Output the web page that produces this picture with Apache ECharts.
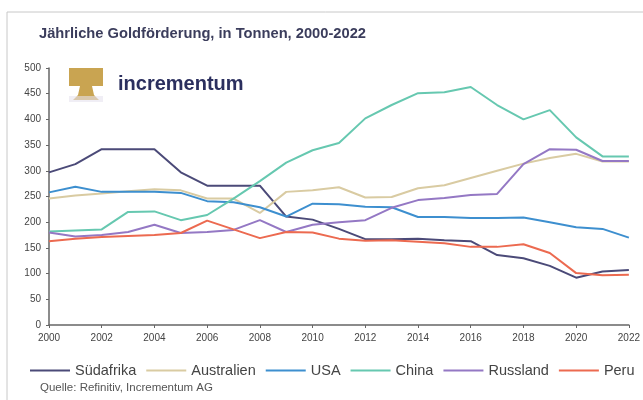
<!DOCTYPE html>
<html><head><meta charset="utf-8">
<script src="https://cdn.jsdelivr.net/npm/echarts@6/dist/echarts.min.js"></script>
<style>html,body{margin:0;padding:0;background:#fff}#c{width:643px;height:400px}</style>
</head><body><div id="c"></div>
<script>
const years = ['2000','2001','2002','2003','2004','2005','2006','2007','2008','2009','2010','2011','2012','2013','2014','2015','2016','2017','2018','2019','2020','2021','2022'];
const sudafrika = [297, 313, 342, 342, 342, 297, 271, 271, 271, 211, 205, 187, 167, 167, 168, 165, 163, 136, 130, 115, 92, 104, 107];
const australien = [246, 252, 256, 260, 264, 262, 246, 246, 218, 259, 262, 268, 248, 249, 266, 272, 286, 300, 314, 325, 333, 318, 318];
const usa = [258, 269, 259, 259, 259, 257, 241, 239, 229, 211, 236, 235, 230, 229, 210, 210, 208, 208, 209, 200, 190, 187, 170];
const china = [182, 184, 186, 220, 221, 204, 214, 246, 280, 316, 340, 354, 402, 428, 451, 453, 463, 428, 400, 418, 365, 328, 328];
const russland = [180, 172, 175, 181, 195, 179, 181, 185, 204, 181, 195, 200, 204, 228, 243, 247, 253, 255, 313, 342, 341, 319, 319];
const peru = [163, 168, 171, 173, 175, 179, 203, 186, 169, 181, 180, 168, 164, 165, 162, 159, 152, 152, 157, 140, 101, 97, 98];
const seriesNames = ['Südafrika','Australien','USA','China','Russland','Peru'];
const seriesData = [sudafrika, australien, usa, china, russland, peru];
const colors = ['#4b4a78','#d9cba2','#3d8fcf','#66c8b0','#9478c4','#ec6a50'];

const chart = echarts.init(document.getElementById('c'), null, {renderer:'canvas'});
chart.setOption({
  backgroundColor:'#fff',
  animation:false,
  title:{text:'Jährliche Goldförderung, in Tonnen, 2000-2022', left:34, top:21,
    textStyle:{fontFamily:'Liberation Sans, Arial', fontWeight:'bold', fontSize:14.7, color:'#3b3d5c'}},
  graphic:[
    {type:'rect', shape:{x:7,y:12,width:700,height:500}, style:{fill:'none', stroke:'#c8c8c8', lineWidth:1}, z:-1},
    {type:'rect', shape:{x:69,y:68,width:34,height:18}, style:{fill:'#c9a451'}},
    {type:'polygon', shape:{points:[[80,86],[92,86],[94,95],[99,100],[73,100],[78,95]]}, style:{fill:'#c9a451'}},
    {type:'rect', shape:{x:69,y:96,width:34,height:6}, style:{fill:'#e6e2ef', opacity:0.6}},
    {type:'text', left:118, top:74, style:{text:'incrementum', fill:'#2b2f5e', font:'bold 20px Liberation Sans, Arial'}},
    {type:'text', left:40, top:382, style:{text:'Quelle: Refinitiv, Incrementum AG', fill:'#555', font:'11.5px Liberation Sans, Arial'}}
  ],
  legend:{left:25, top:358, icon:'rect', itemWidth:40, itemHeight:2, itemGap:10,
    textStyle:{fontFamily:'Liberation Sans, Arial', fontSize:14.5, color:'#444'},
    data:seriesNames},
  grid:{left:49, right:13, top:68, bottom:75},
  xAxis:{type:'category', data:years, boundaryGap:false,
    axisLine:{lineStyle:{color:'#666', width:1.5}},
    axisTick:{show:true, interval:1, length:3, lineStyle:{color:'#666'}},
    axisLabel:{interval:1, fontFamily:'Liberation Sans, Arial', fontSize:10, color:'#444', margin:8}},
  yAxis:{type:'value', min:0, max:500, interval:50,
    axisLine:{show:true, lineStyle:{color:'#666', width:1.5}},
    axisTick:{show:true, length:3, lineStyle:{color:'#666'}},
    splitLine:{show:false},
    axisLabel:{fontFamily:'Liberation Sans, Arial', fontSize:10, color:'#444', margin:8}},
  series: seriesNames.map((n,i)=>({name:n, type:'line', data:seriesData[i], symbol:'none',
    lineStyle:{width:2, color:colors[i]}, itemStyle:{color:colors[i]}}))
});
</script></body></html>
